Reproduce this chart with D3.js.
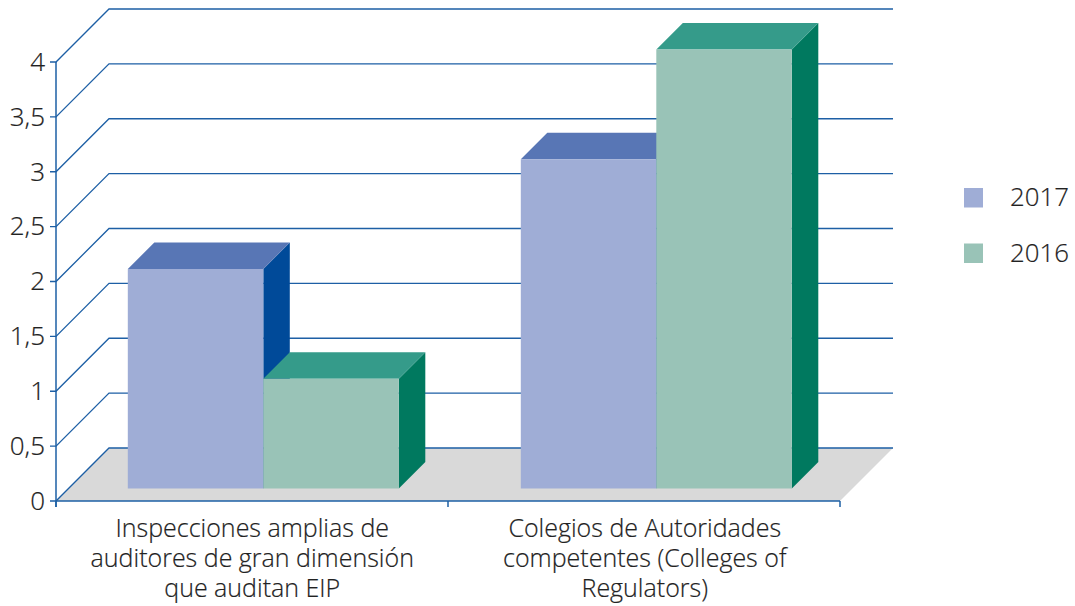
<!DOCTYPE html>
<html><head><meta charset="utf-8">
<script src="https://cdn.jsdelivr.net/npm/d3@7"></script>
<style>html,body{margin:0;padding:0;background:#fff}svg{display:block}text{font-family:"Open Sans",sans-serif;font-weight:300;fill:#222;stroke:#222;stroke-width:.2px}</style>
</head><body><svg id="c" width="1075" height="606"></svg>
<script>
const categoryLines = [
  ["Inspecciones amplias de","auditores de gran dimensión","que auditan EIP"],
  ["Colegios de Autoridades","competentes (Colleges of","Regulators)"]
];
const categories = ["a","b"];
const seriesNames = ["2017","2016"];
const values2017 = [2,3];
const values2016 = [1,4];
const tickValues = [0,0.5,1,1.5,2,2.5,3,3.5,4];
const frontColors = ["#9fadd6","#99c3b7"];
const topColors = ["#5876b5","#359b8a"];
const sideColors = ["#004a99","#00795f"];
const seriesValues = [values2017, values2016];

const svg = d3.select("#c");
const x0 = d3.scaleBand().domain(categories).range([56,841]);
const xBars = d3.scaleBand().domain(categories).range([56,842]);
const y = d3.scaleLinear().domain([0,4]).range([501,62]);
const wallDx = 53, wallDy = -53, barShift = 10.8, barLift = -12.5, depth = 26.5;
const barW = 135.5;
const x1 = d3.scaleBand().domain(seriesNames).range([-barW,barW]);
const gridC = "#1d5fa5";
const fmt = v => String(v).replace(".",",");

// floor
svg.append("path").attr("d", d3.line()([[56,y(0)],[56+wallDx,y(0)+wallDy],[840+wallDx,y(0)+wallDy],[840,y(0)]])+"Z").attr("fill","#d9d9d9");
// grid
tickValues.forEach(v=>{
  svg.append("path").attr("fill","none").attr("stroke",gridC).attr("stroke-width",1.3)
    .attr("d", d3.line()([[50,y(v)],[56,y(v)],[56+wallDx,y(v)+wallDy],[840+wallDx,y(v)+wallDy]]));
  svg.append("text").attr("x",45).attr("y",y(v)+8.8).attr("text-anchor","end").attr("font-size",26).text(fmt(v));
});
// axes
svg.append("line").attr("x1",56).attr("x2",56).attr("y1",y(4)).attr("y2",507).attr("stroke",gridC).attr("stroke-width",1.5);
svg.append("line").attr("x1",56).attr("x2",840).attr("y1",y(0)).attr("y2",y(0)).attr("stroke",gridC).attr("stroke-width",1.5);
[56,448,840].forEach(px=>svg.append("line").attr("x1",px).attr("x2",px).attr("y1",y(0)).attr("y2",507).attr("stroke",gridC).attr("stroke-width",1.5));

// bars
categories.forEach((c,i)=>{
  const cx = xBars(c)+xBars.bandwidth()/2+barShift;
  seriesNames.forEach((s,k)=>{
    const v = seriesValues[k][i];
    const L = cx+x1(s), R = L+x1.bandwidth();
    const T = y(v)+barLift, B = y(0)+barLift;
    svg.append("path").attr("fill",sideColors[k]).attr("d",d3.line()([[R,T],[R+depth,T-depth],[R+depth,B-depth],[R,B]])+"Z");
    svg.append("path").attr("fill",topColors[k]).attr("d",d3.line()([[L,T],[L+depth,T-depth],[R+depth,T-depth],[R,T]])+"Z");
    svg.append("rect").attr("x",L).attr("y",T).attr("width",R-L).attr("height",B-T).attr("fill",frontColors[k]);
  });
  const cxText = x0(c)+x0.bandwidth()/2;
  const label = svg.append("text").attr("text-anchor","middle").attr("font-size",25);
  categoryLines[i].forEach((t,j)=>{
    label.append("tspan").attr("x",cxText).attr("y",537+j*30).text(t);
  });
});
// legend
const ly = d3.scalePoint().domain(seriesNames).range([188,243.5]);
seriesNames.forEach((s,k)=>{
  svg.append("rect").attr("x",964).attr("y",ly(s)).attr("width",19).attr("height",19.5).attr("fill",frontColors[k]);
  svg.append("text").attr("x",1010).attr("y",ly(s)+18).attr("font-size",25.8).text(s);
});
</script></body></html>
